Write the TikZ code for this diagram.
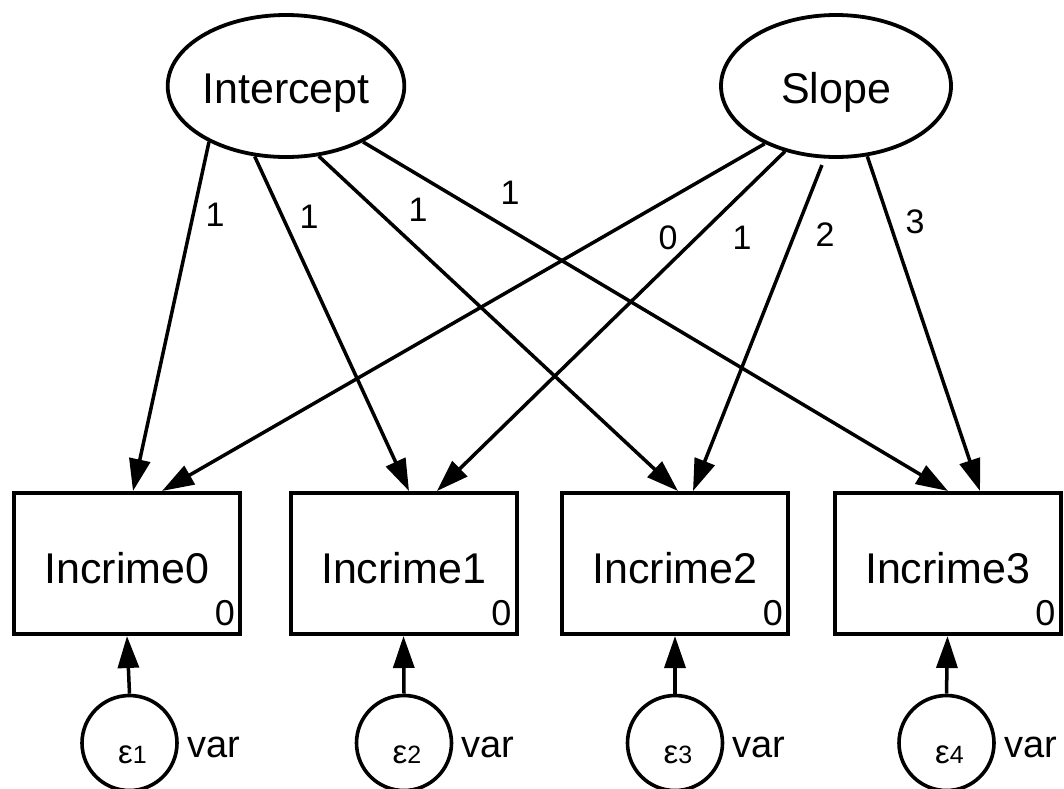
\documentclass[tikz,border=0pt]{standalone}
\usepackage{fontspec}
\setmainfont{Liberation Sans}
\usetikzlibrary{shapes.geometric,arrows.meta,calc}
\begin{document}
\begin{tikzpicture}[x=1pt,y=-1pt,
  latent/.style={ellipse,draw,line width=3.8pt,minimum width=230pt,minimum height=142pt,inner sep=0pt,text height=34pt,text depth=0pt,font=\fontsize{43}{50}\selectfont},
  obsbox/.style={rectangle,draw,line width=4pt,minimum width=226pt,minimum height=141pt,inner sep=0pt,text height=40pt,text depth=0pt,font=\fontsize{43}{50}\selectfont},
  errc/.style={circle,draw,line width=3.6pt,minimum size=95pt,inner sep=0pt},
  conn/.style={line width=3.5pt,-{Triangle[length=32pt,width=21pt]}},
  coef/.style={font=\fontsize{34}{40}\selectfont,inner sep=0pt},
  cons/.style={font=\fontsize{36}{40}\selectfont,inner sep=0pt,anchor=base east},
  vlab/.style={font=\fontsize{38}{44}\selectfont,inner sep=0pt,anchor=base west},
  elab/.style={inner sep=0pt,anchor=base}
]
\useasboundingbox (0,0) rectangle (1064,788);
\fill[white] (0,0) rectangle (1064,788);

% latent variables
\node[latent] (I) at (286,86) {Intercept};
\node[latent] (S) at (836,86) {Slope};

% observed variables
\node[obsbox] (b0) at (127,563.5) {Incrime0};
\node[obsbox] (b1) at (403.5,563.5) {Incrime1};
\node[obsbox] (b2) at (675,563.5) {Incrime2};
\node[obsbox] (b3) at (947.5,563.5) {Incrime3};

% intercept constants
\node[cons] (c0) at ($(b0.south east)+(-7,-11)$) {0};
\node[cons] (c1) at ($(b1.south east)+(-7,-11)$) {0};
\node[cons] (c2) at ($(b2.south east)+(-7,-11)$) {0};
\node[cons] (c3) at ($(b3.south east)+(-7,-11)$) {0};

% error terms
\node[errc] (e1) at (129.5,743) {};
\node[errc] (e2) at (404,743) {};
\node[errc] (e3) at (675,743) {};
\node[errc] (e4) at (946.5,743) {};

\node[elab] (t1) at ($(e1.center)+(3,20)$) {{\fontsize{33}{36}\selectfont ε}{\fontsize{25}{30}\selectfont 1}};
\node[elab] (t2) at ($(e2.center)+(3,20)$) {{\fontsize{33}{36}\selectfont ε}{\fontsize{25}{30}\selectfont 2}};
\node[elab] (t3) at ($(e3.center)+(3,20)$) {{\fontsize{33}{36}\selectfont ε}{\fontsize{25}{30}\selectfont 3}};
\node[elab] (t4) at ($(e4.center)+(3,20)$) {{\fontsize{33}{36}\selectfont ε}{\fontsize{25}{30}\selectfont 4}};

\node[vlab] (v1) at ($(e1.east)+(8,14)$) {var};
\node[vlab] (v2) at ($(e2.east)+(8,14)$) {var};
\node[vlab] (v3) at ($(e3.east)+(8,14)$) {var};
\node[vlab] (v4) at ($(e4.east)+(8,14)$) {var};

\draw[conn] (e1.north) -- (b0.south);
\draw[conn] (e2.north) -- (b1.south);
\draw[conn] (e3.north) -- (b2.south);
\draw[conn] (e4.north) -- (b3.south);

% paths from Intercept
\draw[conn] (I.216.2) -- ($(b0.north)+(6,0)$);
\draw[conn] (I.246.4) -- ($(b1.north)+(5.5,0)$);
\draw[conn] (I.295.9) -- ($(b2.north)+(3,0)$);
\draw[conn] (I.324.2) -- ($(b3.north)+(0.5,0)$);

% paths from Slope
\draw[conn] (S.219.7) -- ($(b0.north)+(35,0)$);
\draw[conn] (S.232.7) -- ($(b1.north)+(33.5,0)$);
\draw[conn,shorten <=7pt] (S.261.9) -- ($(b2.north)+(18,0)$);
\draw[conn] (S.294) -- ($(b3.north)+(32.5,0)$);

% coefficient labels
\node[coef] (l1) at (215,215) {1};
\node[coef] (l2) at (309,217) {1};
\node[coef] (l3) at (418,210) {1};
\node[coef] (l4) at (510,193) {1};
\node[coef] (l5) at (668,238) {0};
\node[coef] (l6) at (742,238) {1};
\node[coef] (l7) at (825,235) {2};
\node[coef] (l8) at (915,222) {3};
\end{tikzpicture}
\end{document}
